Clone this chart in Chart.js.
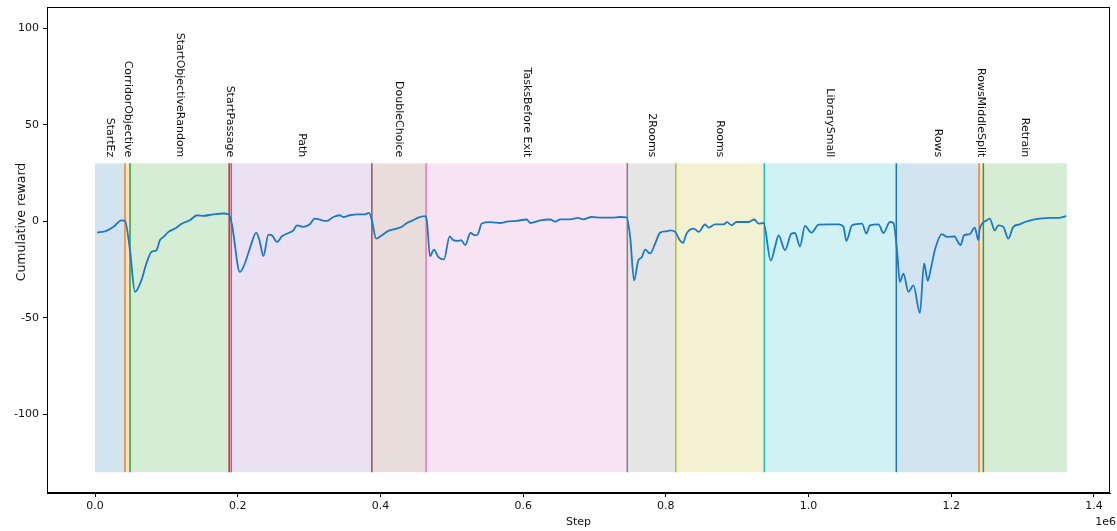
<!DOCTYPE html>
<html>
<head>
<meta charset="utf-8">
<script src="https://cdn.jsdelivr.net/npm/chart.js@4/dist/chart.umd.min.js"></script>
<style>
  body { margin: 0; background: #fff; }
  #wrap { width: 1117px; height: 531px; }
</style>
</head>
<body>
<div id="wrap"><canvas id="chartCanvas" width="1117" height="531"></canvas></div>
<script>
// curriculum phases (start step of each phase), last phase ends at phaseEnd
const phaseNames = ["StartEz", "CorridorObjective", "StartObjectiveRandom", "StartPassage", "Path",
  "DoubleChoice", "TasksBefore Exit", "2Rooms", "Rooms", "LibrarySmall", "Rows", "RowsMiddleSplit", "Retrain"];
const phaseStarts = [0, 42000, 49000, 188000, 191000, 388000, 464000, 746000, 814000, 938000, 1123000, 1239000, 1245000];
const phaseEnd = 1362000;
const phaseColors = ["#1f77b4", "#ff7f0e", "#2ca02c", "#d62728", "#9467bd", "#8c564b", "#e377c2",
  "#7f7f7f", "#bcbd22", "#17becf", "#1f77b4", "#ff7f0e", "#2ca02c"];
const spanLow = -130;
const spanHigh = 30;

// smoothed cumulative reward
const steps = [3000, 16000, 26000, 37000, 42000, 49000, 56000, 65000, 72000, 79000, 86000, 91000, 96000, 103000,
  112000, 122000, 133000, 143000, 152000, 166000, 180000, 187000, 191600, 203000, 210000, 217000, 226000, 231000,
  236000, 243000, 248000, 255000, 262000, 271000, 278000, 283000, 292000, 301000, 308000, 318000, 325000, 334000,
  343000, 348000, 357000, 369000, 378000, 384000, 388000, 394000, 402000, 411000, 423000, 430000, 437000, 444000,
  453000, 462000, 465000, 469500, 475000, 481000, 489000, 497000, 502000, 509000, 513000, 519000, 526000, 533000,
  537000, 542000, 554000, 568000, 577000, 591000, 605000, 610000, 624000, 638000, 645000, 652000, 666000, 677000,
  684000, 696000, 710000, 724000, 736000, 745000, 750000, 755500, 761500, 766000, 771000, 778000, 785000, 792000,
  801000, 806000, 813000, 819000, 824000, 829000, 839000, 846000, 855000, 860000, 869000, 881000, 886000, 892000,
  899000, 916000, 924000, 930000, 937000, 947000, 953000, 958000, 967000, 976000, 981000, 988000, 995000, 1004000,
  1014000, 1028000, 1042000, 1049000, 1053000, 1061000, 1075000, 1081000, 1086000, 1098000, 1105000, 1114000,
  1119000, 1124000, 1128000, 1133000, 1140000, 1147000, 1156000, 1162000, 1167000, 1171000, 1177000, 1187000,
  1194000, 1205000, 1208000, 1213000, 1218000, 1226000, 1233000, 1238000, 1240000, 1250000, 1254000, 1261000,
  1266000, 1273000, 1280000, 1287000, 1296000, 1303000, 1315000, 1324000, 1341000, 1350000, 1361000];
const reward = [-5.9, -5.0, -2.9, 0.5, 0.2, -15, -36.6, -30.6, -21.9, -15.9, -15, -9.8, -8.1, -5.5,
  -3.8, -1.2, 0.5, 3.1, 2.8, 3.6, 4.0, 3.6, -1.2, -26.3, -21.9, -14.1, -5.9, -10.7,
  -18.1, -6.9, -7.3, -10.7, -7.8, -6.1, -4.7, -2.1, -2.9, -1.6, 1.4, 0.5, 0.2, 2.2,
  3.1, 2.2, 3.1, 3.6, 3.6, 4.3, 0.5, -9.0, -7.3, -5.0, -3.8, -2.9, -0.9, 0.2,
  1.9, 2.7, 0.5, -18.1, -14.7, -18.5, -19.8, -7.8, -9.8, -10.2, -9.8, -12.4, -6.1, -7.3,
  -6.4, -1.2, -0.5, -0.9, -0.2, 0.2, 0.9, -0.9, 0.5, 0.9, -0.2, 1.0, 1.0, 1.7,
  1.0, 2.2, 1.9, 1.9, 2.2, 2.0, -8.1, -30.6, -20.2, -18.8, -14.7, -16.7, -11.6, -5.9,
  -5.2, -4.7, -5.5, -9.5, -11.2, -6.4, -3.8, -5.5, -1.7, -3.3, -1.6, -1.6, -0.5, -2.1,
  -0.4, -0.4, 0.9, -1.2, -0.9, -20.4, -13.3, -7.3, -15, -6.4, -6.1, -13, -2.4, -5.9,
  -1.8, -1.6, -1.6, -2.9, -10.2, -2.1, -1.2, -6.4, -2.1, -1.6, -6.1, -0.4,
  -0.9, -15, -31.4, -27.1, -36.6, -33.2, -47.5, -21.9, -30.9, -25.4, -15, -6.7,
  -8.1, -7.8, -9.8, -12.4, -7.3, -6.7, -3.3, -9.8, -3.8, 0.5, 1.4, -4.7,
  -2.1, -2.9, -9.0, -2.9, -1.6, -0.4, 0.9, 1.4, 1.7, 1.7, 2.6];

const xTicks = [0, 200000, 400000, 600000, 800000, 1000000, 1200000, 1400000];
const yTicks = [-100, -50, 0, 50, 100];

const FONT = "'DejaVu Sans', sans-serif";

function hexToRgba(hex, a) {
  const n = parseInt(hex.slice(1), 16);
  return `rgba(${(n >> 16) & 255}, ${(n >> 8) & 255}, ${n & 255}, ${a})`;
}

const phasesPlugin = {
  id: "phases",
  beforeDatasetsDraw(chart) {
    const ctx = chart.ctx;
    const x = chart.scales.x;
    const y = chart.scales.y;
    const yTop = y.getPixelForValue(spanHigh);
    const yBot = y.getPixelForValue(spanLow);
    ctx.save();
    phaseStarts.forEach((s, i) => {
      const e = i < phaseStarts.length - 1 ? phaseStarts[i + 1] : phaseEnd;
      const x0 = x.getPixelForValue(s);
      const x1 = x.getPixelForValue(e);
      ctx.fillStyle = hexToRgba(phaseColors[i], 0.2);
      ctx.fillRect(x0, yTop, x1 - x0, yBot - yTop);
    });
    phaseStarts.forEach((s, i) => {
      if (i === 0) return;
      const px = x.getPixelForValue(s);
      ctx.strokeStyle = phaseColors[i];
      ctx.lineWidth = 1.5;
      ctx.beginPath();
      ctx.moveTo(px, yTop);
      ctx.lineTo(px, yBot);
      ctx.stroke();
    });
    // phase names, rotated, ending just above the spans
    ctx.fillStyle = "#111";
    ctx.font = "11px " + FONT;
    ctx.textAlign = "right";
    ctx.textBaseline = "middle";
    const yLab = y.getPixelForValue(spanHigh) - 6;
    phaseStarts.forEach((s, i) => {
      const e = i < phaseStarts.length - 1 ? phaseStarts[i + 1] : phaseEnd;
      const cx = x.getPixelForValue((s + e) / 2);
      ctx.save();
      ctx.translate(cx, yLab);
      ctx.rotate(Math.PI / 2);
      ctx.fillText(phaseNames[i], 0, 0);
      ctx.restore();
    });
    ctx.restore();
  },
  afterDraw(chart) {
    const ctx = chart.ctx;
    const a = chart.chartArea;
    ctx.save();
    ctx.strokeStyle = "#000";
    ctx.lineWidth = 1;
    ctx.strokeRect(a.left + 0.5, a.top + 0.5, a.right - a.left - 1, a.bottom - a.top - 1);
    ctx.fillStyle = "#111";
    ctx.font = "11px " + FONT;
    ctx.textAlign = "center";
    ctx.textBaseline = "middle";
    ctx.fillText("Step", (a.left + a.right) / 2, 522);
    ctx.textAlign = "right";
    ctx.fillText("1e6", 1116, 522);
    ctx.font = "12.5px " + FONT;
    ctx.textAlign = "center";
    ctx.save();
    ctx.translate(22, 222);
    ctx.rotate(-Math.PI / 2);
    ctx.fillText("Cumulative reward", 0, 0);
    ctx.restore();
    ctx.restore();
  }
};

const ctx = document.getElementById("chartCanvas").getContext("2d");
new Chart(ctx, {
  type: "line",
  data: {
    datasets: [{
      label: "reward",
      data: steps.map((s, i) => ({ x: s, y: reward[i] })),
      borderColor: "#1c79c8",
      borderWidth: 1.8,
      pointRadius: 0,
      fill: false,
      cubicInterpolationMode: "monotone"
    }]
  },
  options: {
    responsive: false,
    animation: false,
    layout: { padding: { top: 7, right: 7, left: 0, bottom: 0 } },
    plugins: { legend: { display: false }, tooltip: { enabled: false } },
    scales: {
      x: {
        type: "linear",
        min: -67300,
        max: 1422500,
        afterBuildTicks: axis => { axis.ticks = xTicks.map(v => ({ value: v })); },
        afterFit: axis => { axis.height = 38; axis.paddingLeft = 0; axis.paddingRight = 0; },
        grid: { drawOnChartArea: false, tickLength: 4, color: "#000" },
        border: { color: "#000" },
        ticks: {
          color: "#111",
          font: { family: FONT, size: 11 },
          padding: 3,
          maxRotation: 0,
          callback: v => (v / 1e6).toFixed(1)
        }
      },
      y: {
        min: -140.8,
        max: 111,
        afterBuildTicks: axis => { axis.ticks = yTicks.map(v => ({ value: v })); },
        afterFit: axis => { axis.width = 47; axis.paddingTop = 0; axis.paddingBottom = 0; },
        grid: { drawOnChartArea: false, tickLength: 4, color: "#000" },
        border: { color: "#000" },
        ticks: {
          color: "#111",
          font: { family: FONT, size: 11 },
          padding: 4
        }
      }
    }
  },
  plugins: [phasesPlugin]
});
</script>
</body>
</html>
